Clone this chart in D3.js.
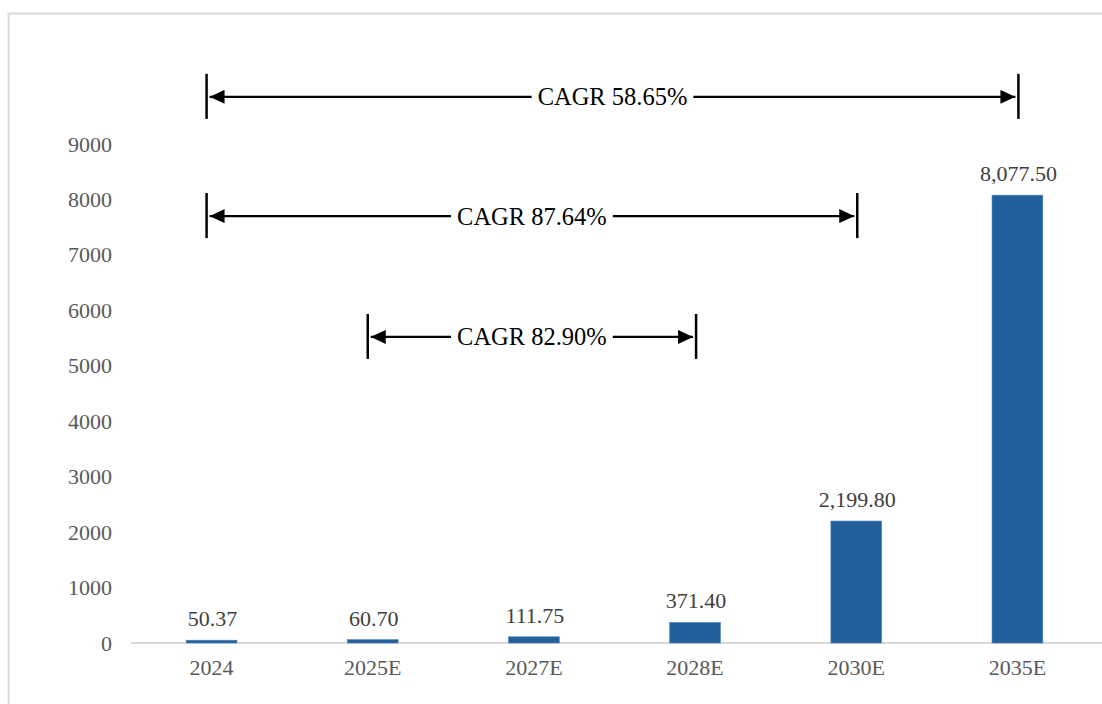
<!DOCTYPE html>
<html>
<head>
<meta charset="utf-8">
<script src="https://cdn.jsdelivr.net/npm/d3@7"></script>
<style>
  html, body { margin: 0; padding: 0; background: #fff; }
  svg { display: block; }
  svg text { font-family: "Liberation Serif", "Times New Roman", "DejaVu Serif", serif; }
</style>
</head>
<body>
<svg id="chart" width="1102" height="704"></svg>
<script>
const categories = ["2024", "2025E", "2027E", "2028E", "2030E", "2035E"];
const values = [50.37, 60.70, 111.75, 371.40, 2199.80, 8077.50];
const valueLabels = ["50.37", "60.70", "111.75", "371.40", "2,199.80", "8,077.50"];
const yTicks = [0, 1000, 2000, 3000, 4000, 5000, 6000, 7000, 8000, 9000];
const cagrFrom = ["2024", "2024", "2025E"];
const cagrTo = ["2035E", "2030E", "2028E"];
const cagrLabels = ["CAGR 58.65%", "CAGR 87.64%", "CAGR 82.90%"];
const cagrLevel = [9850, 7700, 5520];

(function () {
const svg = d3.select("#chart");

// outer frame
svg.append("rect")
  .attr("x", 8.5).attr("y", 13.5)
  .attr("width", 1200).attr("height", 800)
  .attr("fill", "none").attr("stroke", "#d9d9d9").attr("stroke-width", 2);

const pL = 131, pR = 1098, pT = 144, pB = 643;
const x = d3.scaleBand().domain(categories).range([pL, pR]).paddingInner(0.685).paddingOuter(0.3425);
const y = d3.scaleLinear().domain([0, 9000]).range([pB, pT]);

// y axis labels
const yAxis = d3.axisLeft(y).tickValues(yTicks).tickSize(0).tickPadding(0).tickFormat(d3.format("d"));
const gy = svg.append("g").attr("transform", `translate(112,0)`).call(yAxis);
gy.attr("font-family", null).attr("font-size", null);
gy.select(".domain").remove();
gy.selectAll("text")
  .style("font-size", "22px").attr("fill", "#595959");

// x axis
const xAxis = d3.axisBottom(x).tickSize(0).tickPadding(16);
const gx = svg.append("g").attr("transform", `translate(0,${pB})`).call(xAxis);
gx.attr("font-family", null).attr("font-size", null);
gx.select(".domain").attr("stroke", "#d9d9d9").attr("stroke-width", 2)
  .attr("d", `M${pL},0H${pR + 10}`);
gx.selectAll("text")
  .style("font-size", "22px").attr("fill", "#595959");

// bars
svg.append("g").selectAll("rect")
  .data(categories)
  .join("rect")
  .attr("x", d => x(d))
  .attr("width", x.bandwidth())
  .attr("y", (d, i) => y(values[i]))
  .attr("height", (d, i) => y(0) - y(values[i]))
  .attr("fill", "#22609b")
  .attr("stroke", "#4d84bd").attr("stroke-width", 0.6);

// value labels
svg.append("g").selectAll("text")
  .data(categories)
  .join("text")
  .attr("x", d => x(d) + x.bandwidth() / 2 + 1)
  .attr("y", (d, i) => y(values[i]) - 14)
  .attr("text-anchor", "middle")
  .style("font-size", "22px").attr("fill", "#404040")
  .text((d, i) => valueLabels[i]);

// arrow marker
const defs = svg.append("defs");
defs.append("marker").attr("id", "ah")
  .attr("viewBox", "0 0 15 14").attr("refX", 15).attr("refY", 7)
  .attr("markerWidth", 15).attr("markerHeight", 14)
  .attr("markerUnits", "userSpaceOnUse").attr("orient", "auto-start-reverse")
  .append("path").attr("d", "M0,0L15,7L0,14Z").attr("fill", "#000");

const cg = svg.append("g");
cagrLabels.forEach((lab, i) => {
  const x0 = x(cagrFrom[i]) + x.bandwidth() / 2 - 5;
  const x1 = x(cagrTo[i]) + x.bandwidth() / 2 + 1;
  const yy = y(cagrLevel[i]);
  const g = cg.append("g");
  g.append("line").attr("x1", x0).attr("x2", x0).attr("y1", yy - 23).attr("y2", yy + 22)
    .attr("stroke", "#000").attr("stroke-width", 2.5);
  g.append("line").attr("x1", x1).attr("x2", x1).attr("y1", yy - 23).attr("y2", yy + 22)
    .attr("stroke", "#000").attr("stroke-width", 2.5);
  g.append("line").attr("x1", x0 + 3).attr("x2", x1 - 3).attr("y1", yy).attr("y2", yy)
    .attr("stroke", "#000").attr("stroke-width", 2.2)
    .attr("marker-start", "url(#ah)").attr("marker-end", "url(#ah)");
  const t = g.append("text")
    .attr("x", (x0 + x1) / 2).attr("y", yy + 8.5)
    .attr("text-anchor", "middle")
    .style("font-size", "24.5px").attr("fill", "#000")
    .text(lab);
  const bb = t.node().getBBox();
  g.insert("rect", "text")
    .attr("x", bb.x - 6).attr("y", yy - 6).attr("width", bb.width + 12).attr("height", 12)
    .attr("fill", "#fff");
});
})();
</script>
</body>
</html>
